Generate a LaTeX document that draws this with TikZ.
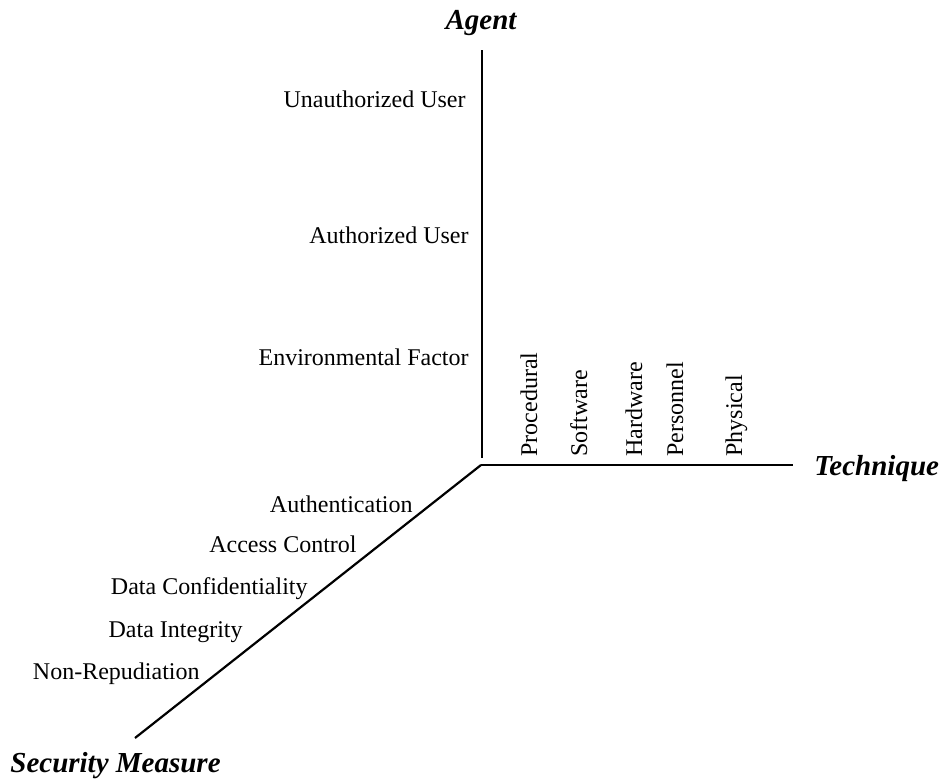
\documentclass[tikz,border=0pt]{standalone}
\usepackage{fontspec}
\setmainfont{Liberation Serif}
\begin{document}
\begin{tikzpicture}[x=0.5pt,y=0.5pt,
  axis/.style={line width=1.1pt},
  lbl/.style={inner sep=0pt,font=\fontsize{12}{14}\selectfont},
  ttl/.style={inner sep=0pt,font=\fontsize{14.5}{17}\selectfont\bfseries\itshape},
  rlbl/.style={lbl,rotate=90,anchor=base west}]
\useasboundingbox (0,0) rectangle (942,-782);
% axes
\coordinate (vtop) at (482,-50);
\coordinate (vbot) at (482,-458);
\coordinate (o) at (481,-465);
\coordinate (hend) at (793,-465);
\coordinate (dend) at (135,-738);
\draw[axis] (vtop) -- (vbot);
\draw[axis] (o) -- (hend);
\draw[axis] (o) -- (dend);
% titles
\node[ttl,anchor=base] (agent) at (481,-29) {Agent};
\node[ttl,anchor=base west] (tech) at (814,-475) {Technique};
\node[ttl,anchor=base west] (sec) at (10,-772) {Security Measure};
% agent labels
\node[lbl,anchor=base east] (unauth) at (466,-107) {Unauthorized User};
\node[lbl,anchor=base east] (auth) at (469,-243) {Authorized User};
\node[lbl,anchor=base east] (env) at (469,-365) {Environmental Factor};
% technique labels
\node[rlbl] (proc) at (537,-457) {Procedural};
\node[rlbl] (soft) at (587,-457) {Software};
\node[rlbl] (hard) at (642,-457) {Hardware};
\node[rlbl] (pers) at (683,-457) {Personnel};
\node[rlbl] (phys) at (742,-457) {Physical};
% security measure labels
\node[lbl,anchor=base east] (authn) at (413,-512) {Authentication};
\node[lbl,anchor=base east] (acc) at (357,-552) {Access Control};
\node[lbl,anchor=base east] (conf) at (308,-594) {Data Confidentiality};
\node[lbl,anchor=base east] (integ) at (243,-637) {Data Integrity};
\node[lbl,anchor=base east] (nonrep) at (200,-679) {Non-Repudiation};
\end{tikzpicture}
\end{document}
